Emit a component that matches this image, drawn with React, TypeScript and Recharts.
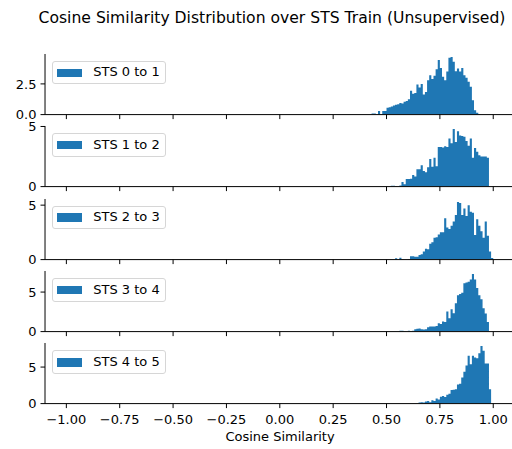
import { AreaChart, Area, XAxis, YAxis } from 'recharts'

// density histograms, 200 bins of width 0.01 over [-1, 1]; only the non-empty stretch is listed
const BIN_WIDTH = 0.01
const X_TICKS = [-1, -0.75, -0.5, -0.25, 0, 0.25, 0.5, 0.75, 1]
const LABELS = ['STS 0 to 1', 'STS 1 to 2', 'STS 2 to 3', 'STS 3 to 4', 'STS 4 to 5']
const FIRST_BIN = [0.43, 0.52, 0.54, 0.56, 0.65]

const STS_0_1 = [
  0.08, 0.08, 0, 0.3, 0, 0.3, 0.3, 0.55, 0.6, 0.65, 0.75, 0.8, 0.85, 0.95, 0.9, 1.05, 1.1,
  1.25, 1.95, 1.7, 1.75, 2.45, 2.2, 2.5, 1.63, 1.85, 2.8, 3.2, 2.9, 3.16, 3.7, 4.44, 3.8,
  3.08, 2.8, 3.5, 4.63, 4.7, 4.3, 3.54, 3.76, 3.5, 3.8, 3.2, 3.0, 2.67, 2.26, 1.17, 0.35,
  0.16, 0.05,
]
const STS_1_2 = [
  0.08, 0.08, 0.05, 0, 0.1, 0.39, 0.2, 0.64, 0.64, 0.66, 0.97, 0.83, 1.44, 1.44, 1.77, 1.3,
  1.2, 1.6, 2.3, 1.66, 2.4, 1.7, 3.3, 3.3, 3.25, 3.36, 3.3, 4.0, 3.6, 4.8, 3.7, 4.6, 4.25,
  4.2, 4.15, 3.8, 3.4, 4.0, 2.4, 3.2, 2.9, 2.6, 2.5, 2.5, 2.5, 2.4,
]
const STS_2_3 = [
  0.12, 0, 0.18, 0.05, 0, 0, 0.05, 0.3, 0.3, 0.25, 0.25, 0.43, 0.5, 0.75, 1.0, 0.95, 1.45,
  1.6, 2.0, 2.06, 2.3, 2.5, 2.5, 3.8, 2.94, 2.8, 3.1, 3.5, 4.1, 5.3, 5.2, 4.1, 4.7, 4.0, 5.0,
  4.4, 4.3, 2.27, 3.7, 3.1, 2.6, 2.0, 3.5, 2.2, 0.75, 0.15,
]
const STS_3_4 = [
  0.12, 0.1, 0.05, 0, 0.1, 0.05, 0.1, 0.3, 0.35, 0.4, 0.3, 0.25, 0.3, 0.55, 0.63, 0.63, 0.65,
  0.72, 1.05, 0.97, 1.27, 1.2, 2.53, 1.69, 2.83, 2.32, 3.59, 4.6, 4.77, 4.9, 6.1, 6.2, 6.3,
  6.6, 7.3, 6.6, 5.5, 4.6, 4.1, 2.95, 2.3, 1.2,
]
const STS_4_5 = [
  0.15, 0.2, 0.15, 0.3, 0.35, 0.2, 0.45, 0.35, 0.7, 0.55, 0.95, 1.05, 0.9, 1.2, 1.35, 1.85,
  1.9, 1.95, 2.6, 2.7, 3.58, 4.36, 5.2, 6.55, 5.4, 6.55, 6.3, 6.2, 6.9, 7.9, 7.25, 5.5, 5.5,
  1.97,
]
const SERIES = [STS_0_1, STS_1_2, STS_2_3, STS_3_4, STS_4_5]
const Y_TICKS = [[0, 2.5], [0, 5], [0, 5], [0, 5], [0, 5]]

const BLUE = '#1f77b4'
const FONT = '"DejaVu Sans", sans-serif'
const CHART_W = 520
const PLOT_TOP = [53.8, 126.2, 198.6, 271, 343.4]
const PLOT_H = 60.6
const PAD_TOP = 10

function toSteps(from: number, heights: number[]) {
  const pts = heights.map((h, i) => ({ x: from + i * BIN_WIDTH, y: h }))
  pts.push({ x: from + heights.length * BIN_WIDTH, y: 0 })
  return pts
}

const fmtX = (v: number) => v.toFixed(2).replace('-', '\u2212')

function Panel({ idx }: { idx: number }) {
  const last = idx === SERIES.length - 1
  const values = SERIES[idx]
  const data = toSteps(FIRST_BIN[idx], values)
  const yMax = Math.max(...values) * 1.05
  const xAxisH = last ? 24 : 10
  const h = PAD_TOP + PLOT_H + xAxisH
  const tickStyle = { fill: '#000', fontSize: 13, fontFamily: FONT }

  return (
    <div style={{ position: 'absolute', left: 0, top: PLOT_TOP[idx] - PAD_TOP, width: CHART_W, height: h }}>
      <AreaChart width={CHART_W} height={h} data={data} margin={{ top: PAD_TOP, right: 5.4, bottom: 0, left: 0 }}>
        <XAxis
          type="number"
          dataKey="x"
          domain={[-1.1, 1.1]}
          allowDataOverflow
          ticks={X_TICKS}
          interval={0}
          height={xAxisH}
          tickSize={4.5}
          tickMargin={6.3}
          tickFormatter={last ? fmtX : () => ''}
          tick={tickStyle}
          axisLine={{ stroke: '#000', strokeWidth: 1 }}
          tickLine={{ stroke: '#000', strokeWidth: 1 }}
        />
        <XAxis
          xAxisId="top"
          orientation="top"
          type="number"
          dataKey="x"
          domain={[-1.1, 1.1]}
          allowDataOverflow
          height={0}
          tick={false}
          tickLine={false}
          axisLine={{ stroke: '#000', strokeWidth: 1 }}
        />
        <YAxis
          type="number"
          domain={[0, yMax]}
          allowDataOverflow
          ticks={Y_TICKS[idx]}
          interval={0}
          width={45}
          tickSize={4.5}
          tickMargin={4}
          tickFormatter={(v: number) => (idx === 0 ? v.toFixed(1) : String(v))}
          tick={tickStyle}
          axisLine={{ stroke: '#000', strokeWidth: 1 }}
          tickLine={{ stroke: '#000', strokeWidth: 1 }}
        />
        <Area
          type="stepAfter"
          dataKey="y"
          baseValue={0}
          fill={BLUE}
          fillOpacity={1}
          stroke="none"
          isAnimationActive={false}
        />
      </AreaChart>
      <div
        style={{
          position: 'absolute',
          left: 52,
          top: PAD_TOP + 7,
          width: 114,
          height: 23.5,
          boxSizing: 'border-box',
          border: '1px solid #d6d6d6',
          borderRadius: 3,
          background: 'rgba(255,255,255,0.8)',
        }}
      >
        <div style={{ position: 'absolute', left: 4.3, top: 6.8, width: 25, height: 8.4, background: BLUE }} />
        <div
          style={{
            position: 'absolute',
            left: 40.3,
            top: 2.5,
            fontFamily: FONT,
            fontSize: 13,
            lineHeight: '16px',
            color: '#000',
            whiteSpace: 'nowrap',
          }}
        >
          {LABELS[idx]}
        </div>
      </div>
    </div>
  )
}

export default function App() {
  return (
    <div style={{ position: 'absolute', left: 0, top: 0, width: 512, height: 449, overflow: 'hidden', background: '#fff' }}>
      <div
        style={{
          position: 'absolute',
          left: 0,
          top: 8.5,
          width: 544,
          textAlign: 'center',
          fontFamily: FONT,
          fontSize: 15.6,
          lineHeight: '19px',
          color: '#000',
          whiteSpace: 'nowrap',
        }}
      >
        Cosine Similarity Distribution over STS Train (Unsupervised)
      </div>
      {SERIES.map((_, i) => <Panel key={LABELS[i]} idx={i} />)}
      <div
        style={{
          position: 'absolute',
          left: 0,
          top: 429,
          width: 560,
          textAlign: 'center',
          fontFamily: FONT,
          fontSize: 13,
          lineHeight: '15px',
          color: '#000',
        }}
      >
        Cosine Similarity
      </div>
    </div>
  )
}
